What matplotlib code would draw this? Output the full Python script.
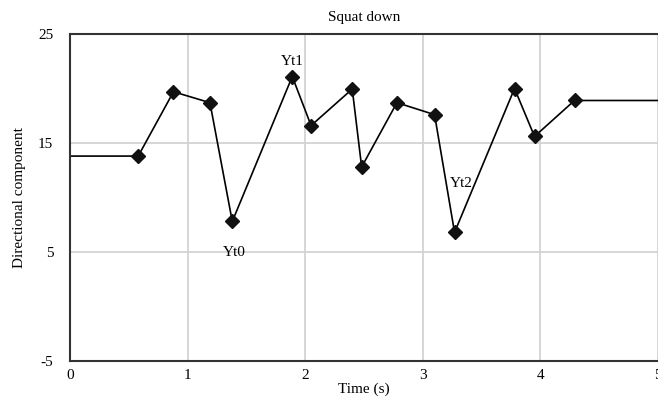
import matplotlib
matplotlib.use('Agg')
import matplotlib.pyplot as plt

# values
time_s = [0.0, 0.58, 0.88, 1.19, 1.38, 1.89, 2.05, 2.40, 2.48, 2.78, 3.10, 3.27, 3.78, 3.95, 4.29, 5.0]
component = [13.8, 13.8, 19.7, 18.7, 7.8, 21.1, 16.6, 19.95, 12.8, 18.7, 17.6, 6.8, 20.0, 15.6, 18.9, 18.9]
marker_idx = list(range(1, 15))
labels = ['Yt0', 'Yt1', 'Yt2']
label_x = [1.40, 1.89, 3.33]
label_y = [5.0, 22.5, 11.3]

plt.rcParams['font.family'] = ['Liberation Serif', 'DejaVu Serif']
plt.rcParams['font.size'] = 11
plt.rcParams['axes.unicode_minus'] = False

fig = plt.figure(figsize=(6.58, 3.99), dpi=100)
ax = fig.add_axes([70 / 658, 38 / 399, 588 / 658, 327 / 399])

ax.plot(time_s, component, color='black', lw=1.2)
ax.plot([time_s[i] for i in marker_idx], [component[i] for i in marker_idx],
        linestyle='none', marker='D', markersize=7, color='#111111')

for t, x, y in zip(labels, label_x, label_y):
    ax.text(x, y, t, ha='center', va='center', fontsize=11)

ax.set_xlim(0, 5)
ax.set_ylim(-5, 25)
ax.set_xticks([0, 1, 2, 3, 4, 5])
ax.set_yticks([-5, 5, 15, 25])
ax.grid(True, color='#d3d3d3', lw=1.3)
ax.set_axisbelow(True)
ax.tick_params(length=0)
ax.tick_params(axis='y', pad=12)
ax.tick_params(axis='x', pad=6)

ax.spines['right'].set_visible(False)
for s in ['top', 'bottom', 'left']:
    ax.spines[s].set_color('#333333')
    ax.spines[s].set_linewidth(1.5)

ax.set_title('Squat down', fontsize=11, pad=9)
ax.set_xlabel('Time (s)', labelpad=0)
ax.set_ylabel('Directional component', labelpad=9)

fig.savefig('out.png', dpi=100)
